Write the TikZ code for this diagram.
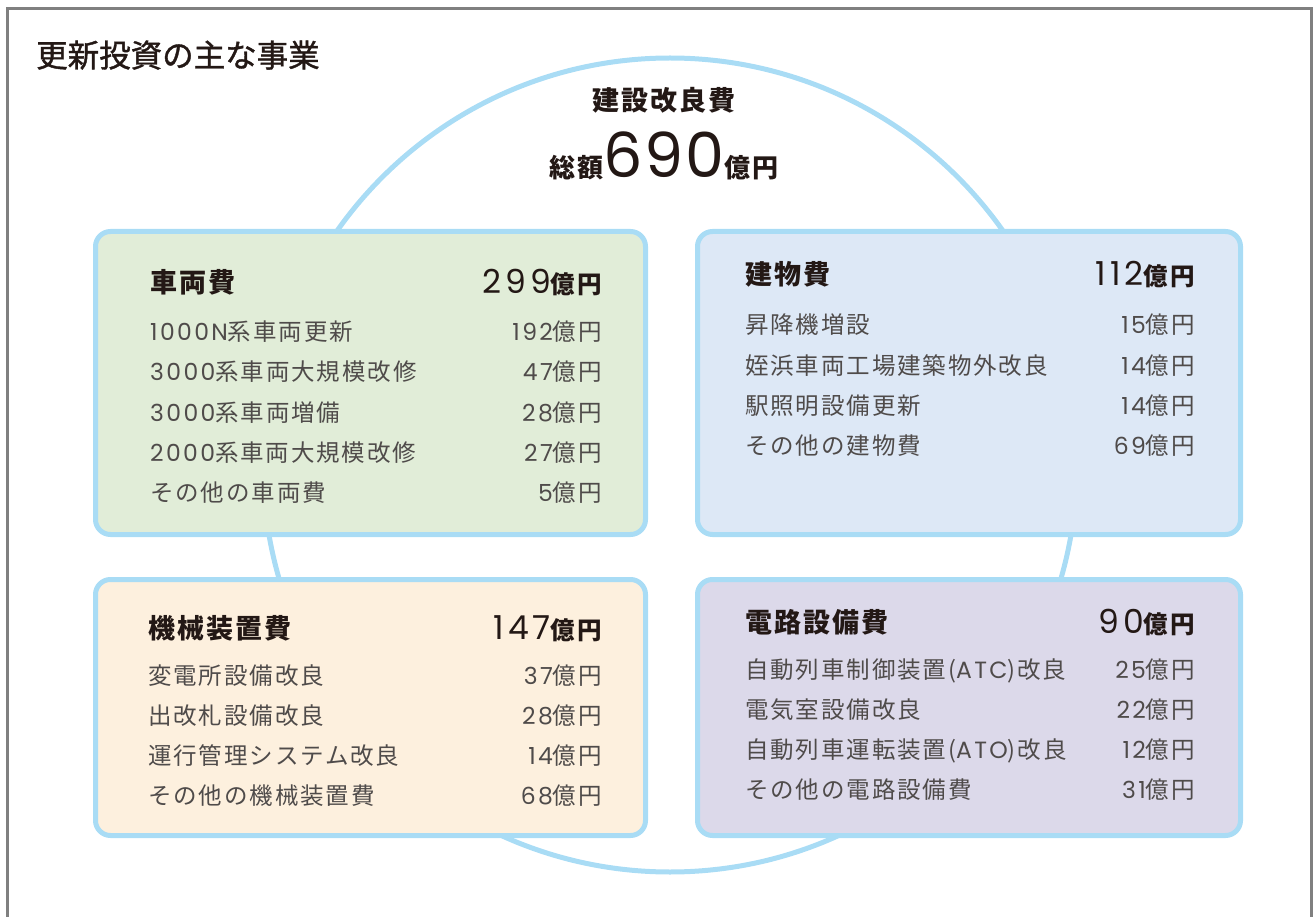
\documentclass[tikz,border=0pt]{standalone}
\usepackage{fontspec}
\setmainfont{Noto Sans CJK JP}[LetterSpace=8]
\newfontfamily\titlefont{Noto Sans CJK JP}[FakeBold=1.2]
\newfontfamily\nf{Poppins}[LetterSpace=10]
\newfontfamily\nfhead{Poppins}[LetterSpace=12]
\newfontfamily\nfbig{Poppins}[LetterSpace=3]
\definecolor{ringblue}{HTML}{A9DCF5}
\definecolor{framegray}{HTML}{808080}
\definecolor{txtdark}{HTML}{231815}
\definecolor{txtitem}{HTML}{4F4B4A}
\definecolor{fgreen}{HTML}{E1EDD8}
\definecolor{fblue}{HTML}{DDE8F6}
\definecolor{forange}{HTML}{FDF0DE}
\definecolor{fpurple}{HTML}{DCD9EA}
\tikzset{
  ring/.style={draw=ringblue, line width=5pt},
  card/.style={draw=ringblue, line width=5pt, rounded corners=15pt},
  head/.style={anchor=base west, inner sep=0pt, text=txtdark, font=\fontsize{27}{27}\selectfont\bfseries},
  headnum/.style={anchor=base east, inner sep=0pt, text=txtdark, font=\fontsize{24.5}{24.5}\selectfont\bfseries},
  itm/.style={anchor=base west, inner sep=0pt, text=txtitem, font=\fontsize{23.5}{23.5}\selectfont},
  itmnum/.style={anchor=base east, inner sep=0pt, text=txtitem, font=\fontsize{23.5}{23.5}\selectfont},
}
\newcommand{\bn}[1]{{\nfhead\mdseries\fontsize{33}{33}\selectfont #1}}
\newcommand{\sn}[1]{{\nf\fontsize{23.5}{23.5}\selectfont #1}}
\begin{document}
\begin{tikzpicture}[x=1pt,y=-1pt]
\useasboundingbox (0,0) rectangle (1315,917);
% frame
\draw[framegray, line width=2.5pt] (7.5,960) -- (7.5,8.5) -- (1311.5,8.5) -- (1311.5,960);
% title
\node[anchor=base west, inner sep=0pt, text=txtdark, font=\titlefont\fontsize{31.5}{31.5}\selectfont] (title) at (36,67) {更新投資の主な事業};
% ring
\draw[ring] (670,465) circle[radius=407];
% center text
\node[anchor=base, inner sep=0pt, text=txtdark, font=\fontsize{27}{27}\selectfont\bfseries] (ctitle) at (664,111) {建設改良費};
\node[anchor=base, inner sep=0pt, text=txtdark, font=\fontsize{26}{26}\selectfont\bfseries] (ctotal) at (664,178) {総額{\nfbig\fontsize{62}{62}\selectfont\mdseries 690}億円};
% cards
\fill[fgreen, rounded corners=15pt] (95.5,231.5) rectangle (645.5,534.5);
\draw[card] (95.5,231.5) rectangle (645.5,534.5);
\fill[fblue, rounded corners=15pt] (697.5,231.5) rectangle (1240.5,534.5);
\draw[card] (697.5,231.5) rectangle (1240.5,534.5);
\fill[forange, rounded corners=15pt] (95.5,579.5) rectangle (645.5,835.5);
\draw[card] (95.5,579.5) rectangle (645.5,835.5);
\fill[fpurple, rounded corners=15pt] (697.5,579.5) rectangle (1240.5,835.5);
\draw[card] (697.5,579.5) rectangle (1240.5,835.5);
% green card
\node[head] (gh) at (150,293) {車両費};
\node[headnum] (ghn) at (602,294) {\bn{299}億円};
\node[itm] (g1) at (150,341) {{\nf 1000N}系車両更新};
\node[itmnum] (g1n) at (602,341) {\sn{192}億円};
\node[itm] (g2) at (150,381) {{\nf 3000}系車両大規模改修};
\node[itmnum] (g2n) at (602,381) {\sn{47}億円};
\node[itm] (g3) at (150,421) {{\nf 3000}系車両増備};
\node[itmnum] (g3n) at (602,421) {\sn{28}億円};
\node[itm] (g4) at (150,461) {{\nf 2000}系車両大規模改修};
\node[itmnum] (g4n) at (602,461) {\sn{27}億円};
\node[itm] (g5) at (150,501) {その他の車両費};
\node[itmnum] (g5n) at (602,501) {\sn{5}億円};
% blue card
\node[head] (bh) at (745,285) {建物費};
\node[headnum] (bhn) at (1195,286) {\bn{112}億円};
\node[itm] (b1) at (745,334) {昇降機増設};
\node[itmnum] (b1n) at (1195,334) {\sn{15}億円};
\node[itm] (b2) at (745,374) {姪浜車両工場建築物外改良};
\node[itmnum] (b2n) at (1195,374) {\sn{14}億円};
\node[itm] (b3) at (745,414) {駅照明設備更新};
\node[itmnum] (b3n) at (1195,414) {\sn{14}億円};
\node[itm] (b4) at (745,454) {その他の建物費};
\node[itmnum] (b4n) at (1195,454) {\sn{69}億円};
% orange card
\node[head] (oh) at (148,638) {機械装置費};
\node[headnum] (ohn) at (602,639) {\bn{147}億円};
\node[itm] (o1) at (148,684) {変電所設備改良};
\node[itmnum] (o1n) at (602,684) {\sn{37}億円};
\node[itm] (o2) at (148,724) {出改札設備改良};
\node[itmnum] (o2n) at (602,724) {\sn{28}億円};
\node[itm] (o3) at (148,764) {運行管理システム改良};
\node[itmnum] (o3n) at (602,764) {\sn{14}億円};
\node[itm] (o4) at (148,804) {その他の機械装置費};
\node[itmnum] (o4n) at (602,804) {\sn{68}億円};
% purple card
\node[head] (ph) at (745,632) {電路設備費};
\node[headnum] (phn) at (1195,633) {\bn{90}億円};
\node[itm] (p1) at (745,678) {自動列車制御装置({\nf ATC})改良};
\node[itmnum] (p1n) at (1195,678) {\sn{25}億円};
\node[itm] (p2) at (745,718) {電気室設備改良};
\node[itmnum] (p2n) at (1195,718) {\sn{22}億円};
\node[itm] (p3) at (745,758) {自動列車運転装置({\nf ATO})改良};
\node[itmnum] (p3n) at (1195,758) {\sn{12}億円};
\node[itm] (p4) at (745,798) {その他の電路設備費};
\node[itmnum] (p4n) at (1195,798) {\sn{31}億円};
\end{tikzpicture}
\end{document}
